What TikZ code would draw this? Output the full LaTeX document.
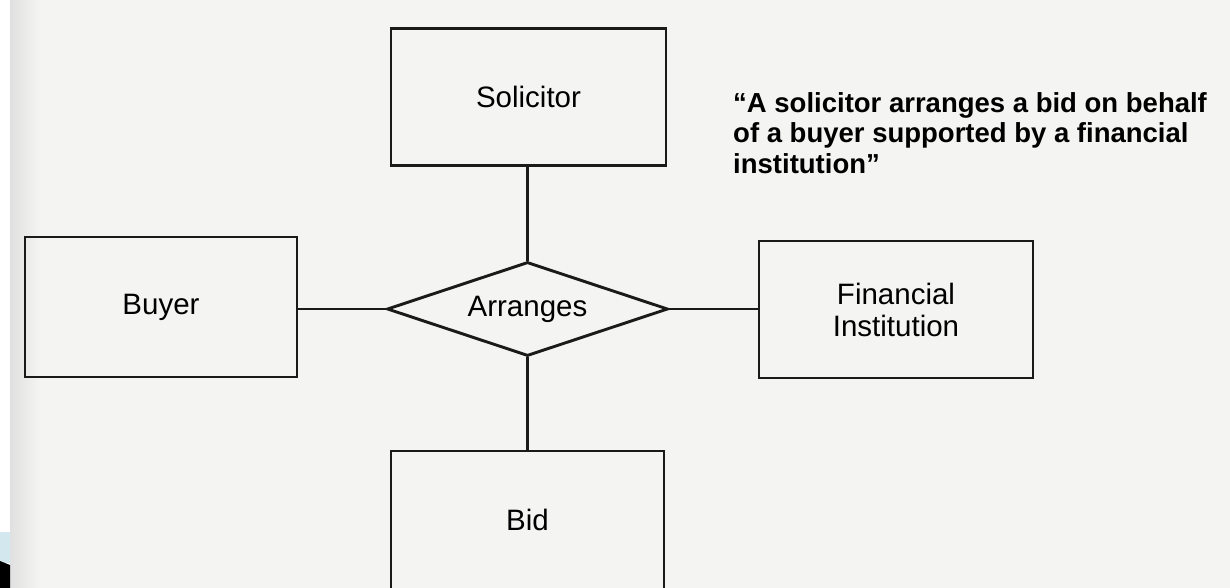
\documentclass[tikz,border=0pt]{standalone}
\usepackage{fontspec}
\setmainfont{Liberation Sans}
\usetikzlibrary{shapes.geometric}
\definecolor{pagegray}{HTML}{F4F4F3}
\definecolor{slideblue}{HTML}{D3E7EF}
\definecolor{inkline}{HTML}{1A1A1A}
\tikzset{
  entity/.style={draw=inkline, line width=2.9pt, rectangle, inner sep=0pt,
    font=\fontsize{29.5}{33}\selectfont, align=center},
  relation/.style={draw=inkline, line width=2.9pt, diamond, aspect=3, inner sep=0pt,
    minimum width=281pt, minimum height=94pt, font=\fontsize{29.5}{33}\selectfont},
  link/.style={draw=inkline, line width=2.9pt},
  quote/.style={font=\bfseries\fontsize{27.5}{30.5}\selectfont, align=left, inner sep=0pt, text=black}
}
\begin{document}
\begin{tikzpicture}[x=1pt,y=-1pt]
\useasboundingbox (0,0) rectangle (1230,588);
\fill[white] (0,0) rectangle (1230,588);
\fill[pagegray] (10,0) rectangle (1230,588);
\shade[left color=black!12, right color=pagegray] (10,0) rectangle (40,588);
% slide decoration at bottom left
\fill[slideblue] (0,532) rectangle (10,563);
\fill[black] (0,561) -- (10,565) -- (10,588) -- (0,588) -- cycle;

\node[entity, minimum width=275pt, minimum height=137pt] (sol) at (528.5,97) {Solicitor};
\node[entity, minimum width=272pt, minimum height=140pt] (buy) at (161,307) {Buyer};
\node[entity, minimum width=274pt, minimum height=137pt] (fin) at (896,309.5) {Financial\\[-1pt]Institution};
\node[entity, minimum width=273pt, minimum height=138pt] (bid) at (527.5,520) {Bid};
\node[relation] (arr) at (527.5,309) {Arranges};

\draw[link] (arr.north) -- (sol.south -| arr.north);
\draw[link] (arr.south) -- (bid.north -| arr.south);
\draw[link] (arr.west) -- (buy.east |- arr.west);
\draw[link] (arr.east) -- (fin.west |- arr.east);

\node[quote, anchor=north west] (q) at (733,92)
  {“A solicitor arranges a bid on behalf\\of a buyer supported by a financial\\institution”};
\end{tikzpicture}
\end{document}
